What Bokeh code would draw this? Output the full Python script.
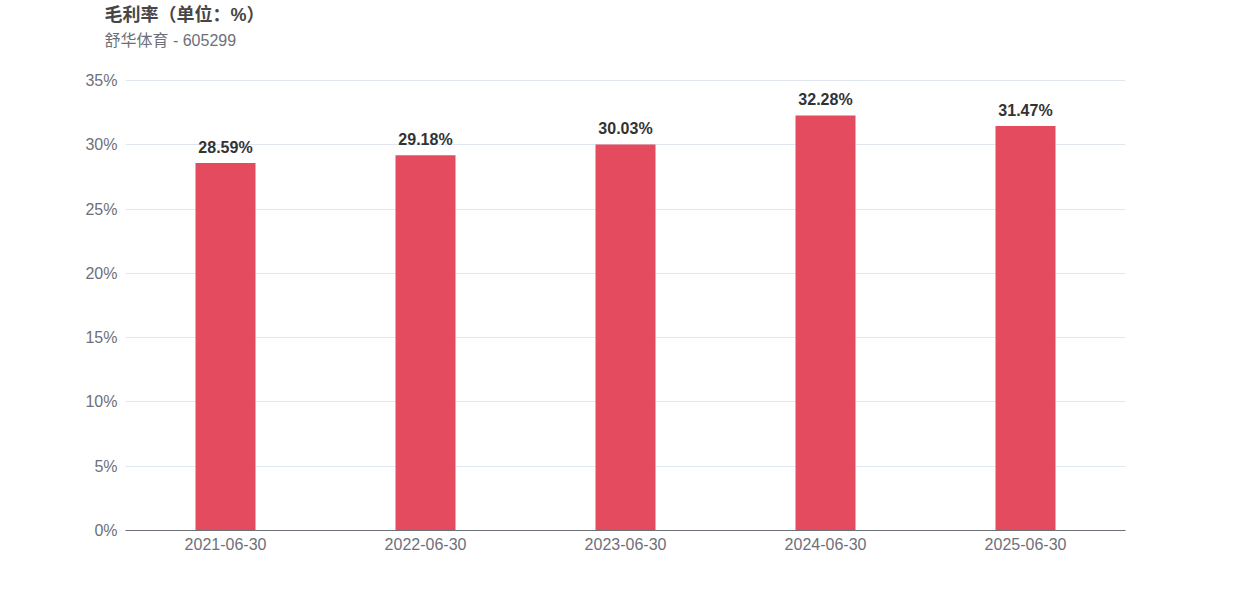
from bokeh.plotting import figure
from bokeh.models import ColumnDataSource, FactorRange, Range1d, FixedTicker, PrintfTickFormatter, Title, LabelSet
from bokeh.core.properties import value
from bokeh.embed import file_html
from bokeh.resources import INLINE

categories = ["2021-06-30", "2022-06-30", "2023-06-30", "2024-06-30", "2025-06-30"]
values = [28.59, 29.18, 30.03, 32.28, 31.47]
labels = [f"{v:.2f}%" for v in values]
y_ticks = [0, 5, 10, 15, 20, 25, 30, 35]
title_text = "毛利率（单位：%）"
subtitle_text = "舒华体育 - 605299"

FONT = "Liberation Sans, Noto Sans CJK SC"

TOP = 53
FRAME_H = 530 - TOP
y_max = 35 * FRAME_H / 450.0

src = ColumnDataSource(dict(cat=categories, val=values, lab=labels))

p = figure(width=1242, height=TOP + FRAME_H + 62, output_backend="svg", toolbar_location=None,
           x_range=FactorRange(*categories, range_padding=0), y_range=Range1d(0, y_max),
           min_border_left=125, min_border_right=117, min_border_top=TOP, min_border_bottom=62)
p.outline_line_color = None
p.background_fill_color = "white"
p.border_fill_color = "white"

p.vbar(x="cat", top="val", width=0.3, source=src, fill_color="#E54B5E", line_color=None)

p.add_layout(LabelSet(x="cat", y="val", text="lab", source=src, text_align="center",
                      text_baseline="bottom", y_offset=7, text_font_size="16px",
                      text_font_style="bold", text_color="#333333", text_font=value(FONT)))

p.yaxis.ticker = FixedTicker(ticks=y_ticks)
p.yaxis.formatter = PrintfTickFormatter(format="%d%%")
p.yaxis.axis_line_color = None
p.yaxis.major_tick_line_color = None
p.yaxis.minor_tick_line_color = None
p.yaxis.major_tick_out = 0
p.yaxis.minor_tick_out = 0
p.yaxis.major_label_text_font_size = "16px"
p.yaxis.major_label_text_color = "#6E7079"
p.yaxis.major_label_text_font = FONT
p.yaxis.major_label_standoff = 8

p.xaxis.axis_line_color = "#6E7079"
p.xaxis.major_tick_line_color = None
p.xaxis.minor_tick_line_color = None
p.xaxis.major_tick_out = 0
p.xaxis.minor_tick_out = 0
p.xaxis.major_label_text_font_size = "16px"
p.xaxis.major_label_text_color = "#6E7079"
p.xaxis.major_label_text_font = FONT
p.xaxis.major_label_standoff = 7

p.xgrid.grid_line_color = None
p.ygrid.grid_line_color = "#E0E6F1"
p.ygrid.ticker = FixedTicker(ticks=y_ticks)

p.add_layout(Title(text=subtitle_text, align="left", offset=-21, text_font_size="16px",
                   text_font_style="normal", text_color="#6E7079", text_font=FONT,
                   standoff=10), "above")
p.add_layout(Title(text=title_text, align="left", offset=-21, text_font_size="18px",
                   text_font_style="bold", text_color="#464646", text_font=FONT,
                   standoff=0), "above")

open("out.html", "w").write(file_html(p, INLINE))
